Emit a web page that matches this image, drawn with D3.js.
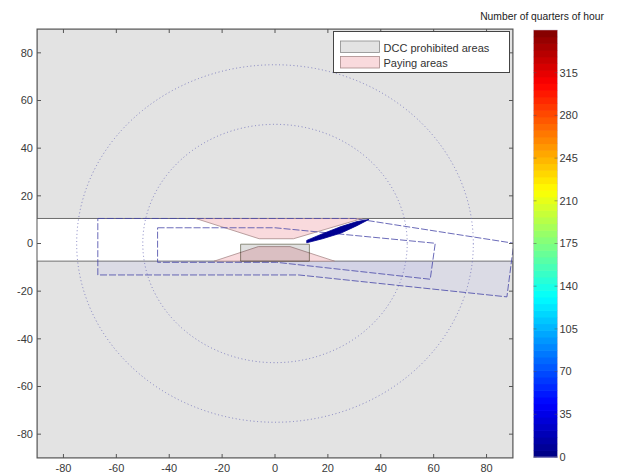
<!DOCTYPE html>
<html>
<head>
<meta charset="utf-8">
<script src="https://cdn.jsdelivr.net/npm/d3@7"></script>
<style>
  html, body { margin: 0; padding: 0; background: #fff; }
  svg { display: block; font-family: "Liberation Sans", Arial, sans-serif; }
</style>
</head>
<body>
<svg id="chart" width="618" height="476"></svg>
<script>
// ---- data (metres, relative to the junction centre) ----
const axisTicks = [-80, -60, -40, -20, 0, 20, 40, 60, 80];
const colorTicks = [0, 35, 70, 105, 140, 175, 210, 245, 280, 315];
const colorDomain = [0, 350];
const colorTitle = "Number of quarters of hour";
const legendLabels = ["DCC prohibited areas", "Paying areas"];

// open corridor between the two prohibited half-planes
const corridor = [-7.4, 10.5];
// prohibited box inside the corridor
const prohibitedBox = [[-13, -7.4], [13, -7.4], [13, -0.3], [-13, -0.3]];
// paying areas
const payingUpper = [[-30, 10.5], [33, 10.5], [7, 2], [-6, 2]];
const payingLower = [[-23, -7.4], [-6.3, -1.3], [5.7, -1.3], [22.5, -7.4]];
// distance rings
const ringRadii = [50, 75];
// road zones (outer and inner)
const outerZone = [[-67, 10.5], [30, 10.5], [90.3, 0.1], [87.7, -22.4], [9, -13.2], [-67, -13.2]];
const innerZone = [[-44.4, 6.6], [0, 6.6], [60.6, 0.1], [58.7, -15.0], [0.6, -7.9], [-44.4, -7.9]];
// occupancy footprint and its count
const footprint = [[12, 1.3], [18, 4.1], [25, 7.1], [31, 9.2], [35.5, 10.1],
                   [31, 7.5], [25, 4.4], [18, 2.0], [12, 0.3]];
const footprintValue = 6;

// ---- layout ----
const svg = d3.select("#chart");
const plot = { left: 37, right: 513, top: 29, bottom: 458 };
const x = d3.scaleLinear().domain([-90, 90]).range([plot.left, plot.right]);
const y = d3.scaleLinear().domain([-90, 90]).range([plot.bottom, plot.top]);

// MATLAB-style jet colormap
function jet(t) {
  const c = v => Math.max(0, Math.min(1, v));
  const r = c(1.5 - Math.abs(4 * t - 3));
  const g = c(1.5 - Math.abs(4 * t - 2));
  const b = c(1.5 - Math.abs(4 * t - 1));
  return d3.rgb(r * 255, g * 255, b * 255).toString();
}
const color = d3.scaleSequential(jet).domain(colorDomain);

const line = d3.line().x(d => x(d[0])).y(d => y(d[1]));
const poly = pts => line(pts) + "Z";

const defs = svg.append("defs");
defs.append("clipPath").attr("id", "plotClip")
  .append("rect")
  .attr("x", plot.left).attr("y", plot.top)
  .attr("width", plot.right - plot.left).attr("height", plot.bottom - plot.top);
// the region outside the corridor, where zone tint shows
const outside = defs.append("clipPath").attr("id", "outsideClip");
outside.append("rect")
  .attr("x", plot.left).attr("y", plot.top)
  .attr("width", plot.right - plot.left).attr("height", y(corridor[1]) - plot.top);
outside.append("rect")
  .attr("x", plot.left).attr("y", y(corridor[0]))
  .attr("width", plot.right - plot.left).attr("height", plot.bottom - y(corridor[0]));

const g = svg.append("g").attr("clip-path", "url(#plotClip)");

g.append("rect")
  .attr("x", plot.left).attr("y", plot.top)
  .attr("width", plot.right - plot.left).attr("height", plot.bottom - plot.top)
  .attr("fill", "#fff");

// prohibited half-planes
const grayFill = "#e3e3e3";
g.append("path")
  .attr("d", poly([[-90, corridor[1]], [90, corridor[1]], [90, 90], [-90, 90]]))
  .attr("fill", grayFill).attr("stroke", "#6e6e6e").attr("stroke-width", 1);
g.append("path")
  .attr("d", poly([[-90, -90], [90, -90], [90, corridor[0]], [-90, corridor[0]]]))
  .attr("fill", grayFill).attr("stroke", "#6e6e6e").attr("stroke-width", 1);

// zone tint (visible over the gray)
g.append("g").attr("clip-path", "url(#outsideClip)")
  .selectAll("path").data([outerZone, innerZone]).join("path")
  .attr("d", poly)
  .attr("fill", "rgba(110,110,255,0.07)");

// paying areas
g.selectAll("path.pay").data([payingUpper, payingLower]).join("path")
  .attr("class", "pay")
  .attr("d", poly)
  .attr("fill", "#f9dadd")
  .attr("stroke", "#a88a8a").attr("stroke-width", 0.8);

// prohibited box
g.append("path")
  .attr("d", poly(prohibitedBox))
  .attr("fill", "#e0e0e0")
  .style("mix-blend-mode", "multiply")
  .attr("stroke", "#8c8c7c").attr("stroke-width", 1);

// distance rings
g.selectAll("ellipse.ring").data(ringRadii).join("ellipse")
  .attr("class", "ring")
  .attr("cx", x(0)).attr("cy", y(0))
  .attr("rx", r => x(r) - x(0)).attr("ry", r => y(0) - y(r))
  .attr("fill", "none")
  .attr("stroke", "#6f6fb8").attr("stroke-opacity", 0.85)
  .attr("stroke-width", 1).attr("stroke-dasharray", "1,2.6");

// zone outlines
g.selectAll("path.zone").data([outerZone, innerZone]).join("path")
  .attr("class", "zone")
  .attr("d", poly)
  .attr("fill", "none")
  .attr("stroke", "#4646a8").attr("stroke-opacity", 0.8)
  .attr("stroke-width", 1).attr("stroke-dasharray", "7,2");

// occupancy footprint
g.append("path")
  .attr("d", poly(footprint))
  .attr("fill", color(footprintValue))
  .attr("stroke", color(footprintValue)).attr("stroke-width", 0.8);

// ---- axes box and ticks (ticks inward on all sides) ----
const axisColor = "#555";
const tickLen = 4;
svg.append("rect")
  .attr("x", plot.left).attr("y", plot.top)
  .attr("width", plot.right - plot.left).attr("height", plot.bottom - plot.top)
  .attr("fill", "none").attr("stroke", axisColor).attr("stroke-width", 1);

const ticks = svg.append("g").attr("stroke", axisColor).attr("stroke-width", 1);
axisTicks.forEach(t => {
  ticks.append("line").attr("x1", x(t)).attr("x2", x(t)).attr("y1", plot.bottom).attr("y2", plot.bottom - tickLen);
  ticks.append("line").attr("x1", x(t)).attr("x2", x(t)).attr("y1", plot.top).attr("y2", plot.top + tickLen);
  ticks.append("line").attr("y1", y(t)).attr("y2", y(t)).attr("x1", plot.left).attr("x2", plot.left + tickLen);
  ticks.append("line").attr("y1", y(t)).attr("y2", y(t)).attr("x1", plot.right).attr("x2", plot.right - tickLen);
});

const labelColor = "#3a3a3a";
svg.append("g").selectAll("text").data(axisTicks).join("text")
  .attr("x", d => x(d)).attr("y", 472)
  .attr("text-anchor", "middle")
  .attr("font-size", 11).attr("fill", labelColor)
  .text(d => d);
svg.append("g").selectAll("text").data(axisTicks).join("text")
  .attr("x", 33).attr("y", d => y(d))
  .attr("dy", "0.35em")
  .attr("text-anchor", "end")
  .attr("font-size", 11).attr("fill", labelColor)
  .text(d => d);

// ---- legend ----
const legend = svg.append("g");
legend.append("rect")
  .attr("x", 333.5).attr("y", 31.5).attr("width", 176).attr("height", 41)
  .attr("fill", "#fff").attr("stroke", "#444").attr("stroke-width", 1);
const swatchFill = ["#e3e3e3", "#f9dadd"];
const swatchStroke = ["#8a8a8a", "#a88a8a"];
legendLabels.forEach((label, i) => {
  const yy = 41 + i * 15.5;
  legend.append("rect")
    .attr("x", 340.5).attr("y", yy).attr("width", 39).attr("height", 11.5)
    .attr("fill", swatchFill[i]).attr("stroke", swatchStroke[i]).attr("stroke-width", 0.8);
  legend.append("text")
    .attr("x", 383.5).attr("y", yy + 10.5)
    .attr("font-size", 11).attr("fill", "#333")
    .text(label);
});

// ---- colorbar ----
const cb = { left: 533.5, right: 557.5, top: 30, bottom: 457 };
const cy = d3.scaleLinear().domain(colorDomain).range([cb.bottom, cb.top]);
const nBins = 64;
const binStep = (colorDomain[1] - colorDomain[0]) / nBins;
const bins = d3.range(nBins).map(i => colorDomain[0] + i * binStep);
svg.append("g").selectAll("rect").data(bins).join("rect")
  .attr("x", cb.left).attr("width", cb.right - cb.left)
  .attr("y", d => cy(d + binStep))
  .attr("height", d => cy(d) - cy(d + binStep) + 0.6)
  .attr("fill", d => color(d + binStep / 2));
svg.append("rect")
  .attr("x", cb.left).attr("y", cb.top)
  .attr("width", cb.right - cb.left).attr("height", cb.bottom - cb.top)
  .attr("fill", "none").attr("stroke", "#c8bcd0").attr("stroke-width", 0.5);
const cbTicks = svg.append("g").attr("stroke", "#555").attr("stroke-opacity", 0.5);
colorTicks.forEach(t => {
  cbTicks.append("line").attr("x1", cb.left).attr("x2", cb.left + 3).attr("y1", cy(t)).attr("y2", cy(t));
  cbTicks.append("line").attr("x1", cb.right).attr("x2", cb.right - 3).attr("y1", cy(t)).attr("y2", cy(t));
});
svg.append("g").selectAll("text").data(colorTicks).join("text")
  .attr("x", 559.5).attr("y", d => cy(d))
  .attr("dy", "0.35em")
  .attr("font-size", 11).attr("fill", labelColor)
  .text(d => d);
svg.append("text")
  .attr("x", 542).attr("y", 19.5)
  .attr("text-anchor", "middle")
  .attr("font-size", 10.3).attr("fill", "#222")
  .text(colorTitle);
</script>
</body>
</html>
